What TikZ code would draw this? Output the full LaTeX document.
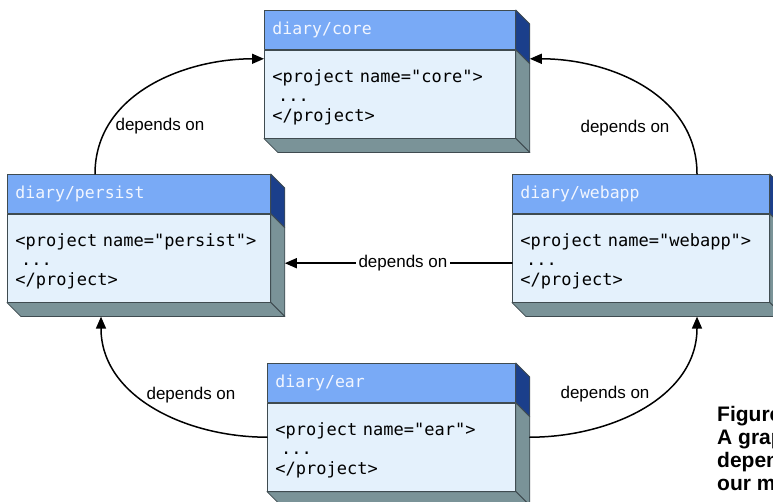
\documentclass[tikz,border=0pt]{standalone}
\usepackage{fontspec}
\setmainfont{Liberation Sans}
\setmonofont{DejaVu Sans Mono}
\usepackage{tikz}
\usetikzlibrary{arrows.meta}
\usetikzlibrary{positioning}
\usetikzlibrary{calc}
\definecolor{HdrBlue}{HTML}{79AAF6}
\definecolor{HdrSide}{HTML}{1B3F8B}
\definecolor{HdrText}{HTML}{F2F6FF}
\definecolor{BodyBlue}{HTML}{E4F1FC}
\definecolor{BoxGray}{HTML}{7A9398}
\definecolor{EdgeGray}{HTML}{3F4B50}

% full-width spaces in the code lines
\newcommand{\codespc}{\fontdimen2\font=0.602em\relax\fontdimen3\font=0pt\relax\fontdimen4\font=0pt\relax}

\tikzset{
  hdr/.style={draw=EdgeGray,line width=0.8pt,fill=HdrBlue,anchor=north west,minimum height=39pt,
    inner xsep=8pt,inner ysep=0pt,align=left,text=HdrText,font=\fontsize{16.5}{19.5}\selectfont\ttfamily},
  bdy/.style={draw=EdgeGray,line width=0.8pt,fill=BodyBlue,anchor=north west,minimum height=88pt,
    inner xsep=8pt,inner ysep=0pt,align=left,font=\fontsize{17}{19.5}\selectfont\ttfamily,
    execute at begin node={\codespc\rule{0pt}{19pt}}},
  topside/.style={draw=EdgeGray,line width=0.8pt,fill=HdrSide},
  lowside/.style={draw=EdgeGray,line width=0.8pt,fill=BoxGray},
  dep/.style={-{Triangle[length=12pt,width=10pt]},line width=1.5pt},
  deplabel/.style={font=\fontsize{17}{20}\selectfont,inner sep=3pt}
}

% depth faces of a project box
\newcommand{\boxfaces}[1]{%
  \filldraw[topside] (#1.north east) -- ++(14,14) -- ($(#1.south east)+(14,14)$) -- (#1.south east) -- cycle;
  \filldraw[lowside] (#1body.north east) -- ($(#1body.north east)+(14,14)$) -- ($(#1body.south east)+(14,14)$) -- (#1body.south east) -- cycle;
  \filldraw[lowside] (#1body.south west) -- (#1body.south east) -- ($(#1body.south east)+(14,14)$) -- ($(#1body.south west)+(14,14)$) -- cycle;
}

\begin{document}
\begin{tikzpicture}[line cap=round,line join=round,x=1pt,y=-1pt]
\useasboundingbox (0,0) rectangle (773,502);
\clip (0,0) rectangle (773,502);

% boxes
\node[hdr,text width=235pt] (core) at (264,10) {diary/core};
\node[bdy,text width=235pt] (corebody) at (core.south west) {<project name="core">\\\ ...\\</project>};
\boxfaces{core}

\node[hdr,text width=247pt] (persist) at (7,174) {diary/persist};
\node[bdy,text width=247pt] (persistbody) at (persist.south west) {<project name="persist">\\\ ...\\</project>};
\boxfaces{persist}

\node[hdr,text width=241pt] (webapp) at (512,174) {diary/webapp};
\node[bdy,text width=241pt] (webappbody) at (webapp.south west) {<project name="webapp">\\\ ...\\</project>};
\boxfaces{webapp}

\node[hdr,text width=232pt] (ear) at (267,363) {diary/ear};
\node[bdy,text width=232pt] (earbody) at (ear.south west) {<project name="ear">\\\ ...\\</project>};
\boxfaces{ear}

% arrow ends
\coordinate (coretipl) at ([yshift=-9pt]corebody.north west);
\coordinate (coretipr) at ($(core.south east)+(14,9)$);
\coordinate (persisttip) at ($(persistbody.south west)+(94,14)$);
\coordinate (persistside) at ($(persistbody.east)+(14,5)$);
\coordinate (webapptip) at ($(webappbody.south west)+(185,14)$);

% dependencies
\draw[dep] ([xshift=88pt]persist.north west) to[out=90,in=180] (coretipl);
\draw[dep] ([xshift=185pt]webapp.north west) to[out=90,in=0] (coretipr);
\draw[dep] ([yshift=-5pt]webappbody.west) -- node[deplabel,fill=white,pos=0.48] (lblwp) {depends on} (persistside);
\draw[dep] ([yshift=10pt]earbody.west) to[out=180,in=270] (persisttip);
\draw[dep] ($(earbody.east)+(14,-10)$) to[out=0,in=270] (webapptip);

\node[deplabel] (lblpc) at (160,126) {depends on};
\node[deplabel] (lblwc) at (625,128) {depends on};
\node[deplabel] (lblep) at (191,395) {depends on};
\node[deplabel] (lblew) at (605,394) {depends on};

% caption, cut by the page edge
\node[font=\bfseries\fontsize{21}{23}\selectfont,align=left,anchor=north west,inner sep=0pt] (caption) at (717,406) {Figure\\A grap\\depen\\our m};
\end{tikzpicture}
\end{document}
